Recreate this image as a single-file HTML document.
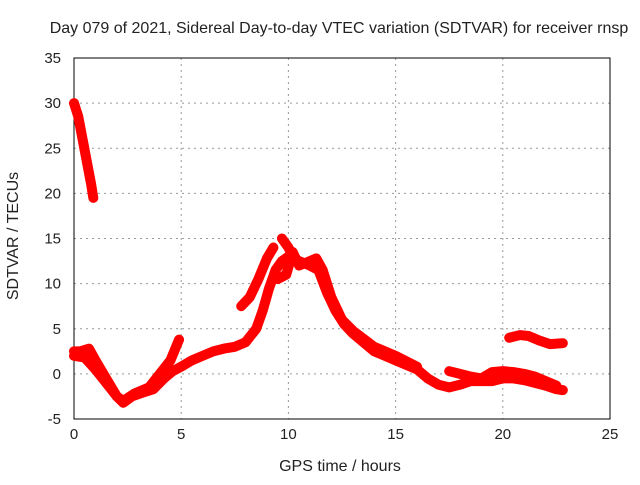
<!DOCTYPE html>
<html><head><meta charset="utf-8"><style>
body{margin:0;background:#fff}
svg text{font-family:"Liberation Sans",sans-serif;font-size:15px;fill:#222}
svg text.big{font-size:16px}
</style></head><body>
<svg width="640" height="480" id="c"></svg>
<script>
const xTicks=[0,5,10,15,20,25];
const yTicks=[-5,0,5,10,15,20,25,30,35];
const trackA=[[0,30],[0.2,28.5],[0.4,26],[0.6,23.5],[0.8,21],[0.9,19.5]];
const trackB=[[0,2.5],[0.3,2.5],[0.7,2.8],[1,1.5],[1.5,-0.5],[2,-2.5],[2.3,-3.2],[2.7,-2.5],[3.3,-2],[3.7,-1.7],[4.2,-0.5],[4.6,0.3],[5,0.8],[5.5,1.5],[6,2],[6.5,2.5],[7,2.8],[7.5,3],[8,3.5],[8.5,5],[8.8,7],[9.1,9.5],[9.4,11.5],[9.7,12.5],[10,13],[10.5,12.5],[11,12],[11.4,11.5],[11.8,9],[12.2,7],[12.6,5.5],[13,4.5],[13.5,3.5],[14,2.5],[14.5,2],[15,1.5],[15.5,1],[16,0.5],[16.5,-0.5],[17,-1.2],[17.5,-1.5],[18,-1.2],[18.5,-0.8],[19,-0.8],[19.5,-0.8],[20,-0.5],[20.5,-0.5],[21,-0.7],[21.5,-1],[22,-1.3],[22.5,-1.7],[22.8,-1.8]];
const trackC=[[0,2],[0.5,1.8],[1,0.5],[1.5,-1],[2,-2.5],[2.3,-3],[2.8,-2.2],[3.5,-1.5],[4,0],[4.5,1.5],[4.9,3.8]];
const trackD=[[7.8,7.5],[8.2,8.5],[8.6,10.5],[9,12.8],[9.3,14]];
const trackE=[[9.5,10.5],[9.9,11],[10.2,13.5],[10.5,12],[11,12.5],[11.3,12.8],[11.6,11.5],[12,8.5],[12.5,6],[13,4.8],[14,3],[15,2],[16,0.8]];
const trackF=[[17.5,0.3],[18,0],[18.5,-0.3],[19,-0.5],[19.5,0.2],[20,0.3],[20.5,0.2],[21,0],[21.5,-0.3],[22,-0.8],[22.5,-1.3]];
const trackG=[[20.3,4],[20.8,4.3],[21.2,4.2],[21.7,3.7],[22.2,3.3],[22.8,3.4]];
const trackH=[[9.7,15],[10,14],[10.3,12.5]];
const tracks=[trackA,trackB,trackC,trackD,trackE,trackF,trackG,trackH];
const L=74,R=610,T=58,B=419;
const X=t=>L+(t-0)/25*(R-L);
const Y=v=>B-(v+5)/40*(B-T);
const svg=document.getElementById('c');
const NS='http://www.w3.org/2000/svg';
function mk(tag,attrs,parent){const e=document.createElementNS(NS,tag);for(const k in attrs)e.setAttribute(k,attrs[k]);(parent||svg).appendChild(e);return e;}
let t=mk('text',{x:339,y:33,'text-anchor':'middle','class':'big'});t.textContent='Day 079 of 2021, Sidereal Day-to-day VTEC variation (SDTVAR) for receiver rnsp';


xTicks.forEach(v=>{
 const g=mk('line',{x1:X(v),x2:X(v),y1:T,y2:B,stroke:'#999','stroke-dasharray':'2,4'});
 
 
 const l=mk('text',{x:X(v),y:B+20,'text-anchor':'middle'});l.textContent=v;
 
 
});
yTicks.forEach(v=>{
 const g=mk('line',{x1:L,x2:R,y1:Y(v),y2:Y(v),stroke:'#999','stroke-dasharray':'2,4'});
 
 
 const l=mk('text',{x:L-13,y:Y(v)+5,'text-anchor':'end'});l.textContent=v;
 
 
});
const f=mk('rect',{x:L,y:T,width:R-L,height:B-T,fill:'none',stroke:'#000','stroke-width':1});


tracks.forEach(tr=>{
 const p=mk('polyline',{points:tr.map(d=>X(d[0])+','+Y(d[1])).join(' '),fill:'none',stroke:'#f00','stroke-width':10,'stroke-linejoin':'round','stroke-linecap':'round'});
 
 
});
const xl=mk('text',{x:340,y:471,'text-anchor':'middle','class':'big'});xl.textContent='GPS time / hours';


const yl=mk('text',{x:18,y:236,'text-anchor':'middle','class':'big',transform:'rotate(-90 18 236)'});yl.textContent='SDTVAR / TECUs';


</script>
</body></html>
